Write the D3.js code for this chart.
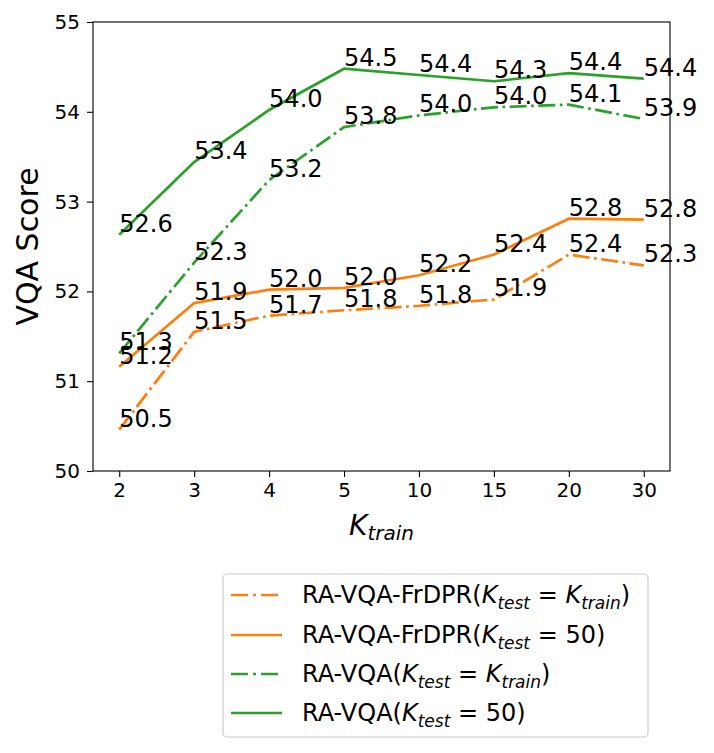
<!DOCTYPE html>
<html>
<head>
<meta charset="utf-8">
<script src="https://cdn.jsdelivr.net/npm/d3@7/dist/d3.min.js"></script>
<style>
  body { margin: 0; background: #fff; }
  svg text { font-family: "DejaVu Sans", sans-serif; fill: #000; }
</style>
</head>
<body>
<svg id="chart" width="714" height="753"></svg>
<script>
const categories = ["2", "3", "4", "5", "10", "15", "20", "30"];
const frdprTrain = [50.46, 51.55, 51.73, 51.79, 51.84, 51.91, 52.41, 52.29];
const frdpr50    = [51.16, 51.87, 52.02, 52.04, 52.18, 52.41, 52.81, 52.80];
const ravqaTrain = [51.31, 52.32, 53.24, 53.83, 53.96, 54.05, 54.08, 53.92];
const ravqa50    = [52.63, 53.44, 54.02, 54.48, 54.41, 54.34, 54.43, 54.37];
const frdprTrainLabels = ["50.5","51.5","51.7","51.8","51.8","51.9","52.4","52.3"];
const frdpr50Labels    = ["51.2","51.9","52.0","52.0","52.2","52.4","52.8","52.8"];
const ravqaTrainLabels = ["51.3","52.3","53.2","53.8","54.0","54.0","54.1","53.9"];
const ravqa50Labels    = ["52.6","53.4","54.0","54.5","54.4","54.3","54.4","54.4"];
const yTicks = [50, 51, 52, 53, 54, 55];

const series = [
  {name: "frdprTrain", values: frdprTrain, labels: frdprTrainLabels, color: "#ff7f0e", dashed: true,
   legend: [["RA-VQA-FrDPR(", "n"], ["K", "i"], ["test", "s"], [" = ", "n"], ["K", "i"], ["train", "s"], [")", "n"]]},
  {name: "frdpr50", values: frdpr50, labels: frdpr50Labels, color: "#ff7f0e", dashed: false,
   legend: [["RA-VQA-FrDPR(", "n"], ["K", "i"], ["test", "s"], [" = 50)", "n"]]},
  {name: "ravqaTrain", values: ravqaTrain, labels: ravqaTrainLabels, color: "#2ca02c", dashed: true,
   legend: [["RA-VQA(", "n"], ["K", "i"], ["test", "s"], [" = ", "n"], ["K", "i"], ["train", "s"], [")", "n"]]},
  {name: "ravqa50", values: ravqa50, labels: ravqa50Labels, color: "#2ca02c", dashed: false,
   legend: [["RA-VQA(", "n"], ["K", "i"], ["test", "s"], [" = 50)", "n"]]}
];

const svg = d3.select("#chart");
const L = 93, R = 670, T = 22, B = 471;
const x = d3.scalePoint().domain(categories).range([L, R]).padding(0.35);
const y = d3.scaleLinear().domain([50, 55]).range([B, T]);
const LW = 2.7;
const dash = "17,4.5,2.7,4.5";

// axes
const gx = svg.append("g").attr("transform", `translate(0,${B})`)
  .call(d3.axisBottom(x).tickSize(6).tickPadding(6));
const gy = svg.append("g").attr("transform", `translate(${L},0)`)
  .call(d3.axisLeft(y).tickValues(yTicks).tickFormat(d3.format("d")).tickSize(6).tickPadding(7));
[gx, gy].forEach(g => {
  g.select(".domain").remove();
  g.selectAll(".tick line").attr("stroke", "#000").attr("stroke-width", 1.1);
  g.selectAll(".tick text").style("font-size", "20px").attr("fill", "#000");
});
gx.selectAll(".tick text").attr("dy", "0.72em");
svg.append("rect").attr("x", L).attr("y", T).attr("width", R - L).attr("height", B - T)
  .attr("fill", "none").attr("stroke", "#000").attr("stroke-width", 1.1);

// lines
const line = d3.line().x((d, i) => x(categories[i])).y(d => y(d));
series.forEach(s => {
  svg.append("path").datum(s.values).attr("d", line)
    .attr("fill", "none").attr("stroke", s.color).attr("stroke-width", LW)
    .attr("stroke-dasharray", s.dashed ? dash : null);
});
// labels
series.forEach(s => {
  svg.append("g").selectAll("text").data(s.values).join("text")
    .attr("x", (d, i) => x(categories[i]))
    .attr("y", d => y(d) - 3)
    .style("font-size", "24px")
    .text((d, i) => s.labels[i]);
});

// axis labels
svg.append("text").attr("transform", `translate(38,${(T + B) / 2}) rotate(-90)`)
  .attr("text-anchor", "middle").style("font-size", "30px").text("VQA Score");
const xl = svg.append("text").attr("x", (L + R) / 2).attr("y", 535).attr("text-anchor", "middle");
xl.append("tspan").style("font-size", "28px").style("font-style", "italic").text("K");
xl.append("tspan").style("font-size", "20px").style("font-style", "italic").attr("dy", 5).text("train");

// legend
const lg = svg.append("g");
lg.append("rect").attr("x", 223).attr("y", 574).attr("width", 425).attr("height", 163)
  .attr("rx", 4).attr("fill", "#fff").attr("stroke", "#cccccc").attr("stroke-width", 1.2);
const rowY = [595, 635, 674, 713];
series.forEach((s, i) => {
  lg.append("line").attr("x1", 231).attr("x2", 282).attr("y1", rowY[i]).attr("y2", rowY[i])
    .attr("stroke", s.color).attr("stroke-width", LW)
    .attr("stroke-dasharray", s.dashed ? "17,5,3,5" : null);
  const t = lg.append("text").attr("x", 302).attr("y", rowY[i] + 8).style("font-size", "24px");
  let shifted = false;
  s.legend.forEach(([txt, kind]) => {
    const ts = t.append("tspan").text(txt);
    if (kind === "i") { ts.style("font-style", "italic"); if (shifted) { ts.attr("dy", -6); shifted = false; } }
    else if (kind === "s") { ts.style("font-style", "italic").style("font-size", "17px").attr("dy", 6); shifted = true; }
    else { if (shifted) { ts.attr("dy", -6); shifted = false; } }
  });
});
</script>
</body>
</html>
